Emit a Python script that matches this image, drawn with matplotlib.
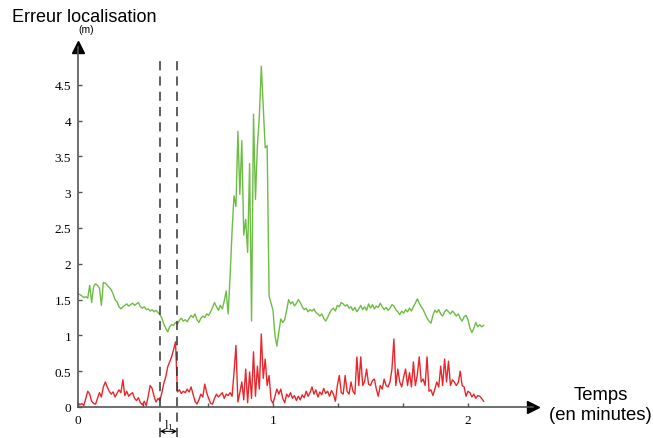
import numpy as np
import matplotlib.pyplot as plt

# --- donnees (erreur de localisation en m, echantillonnee toutes les 0.01 min) ---
dt = 0.01

erreur_verte = [
    1.58, 1.57, 1.55, 1.53, 1.54, 1.52, 1.70, 1.46, 1.68, 1.72,
    1.70, 1.66, 1.42, 1.74, 1.73, 1.70, 1.67, 1.64, 1.58, 1.50,
    1.47, 1.40, 1.37, 1.40, 1.42, 1.44, 1.41, 1.43, 1.45, 1.42,
    1.44, 1.46, 1.40, 1.38, 1.40, 1.36, 1.37, 1.34, 1.36, 1.33,
    1.35, 1.32, 1.29, 1.24, 1.16, 1.10, 1.05, 1.12, 1.15, 1.14,
    1.18, 1.16, 1.21, 1.24, 1.20, 1.22, 1.19, 1.24, 1.28, 1.25,
    1.30, 1.22, 1.18, 1.24, 1.27, 1.25, 1.30, 1.28, 1.33, 1.39,
    1.46, 1.40, 1.35, 1.42, 1.37, 1.48, 1.62, 1.30, 1.83, 2.45,
    2.95, 2.80, 3.85, 2.97, 3.72, 2.40, 2.62, 2.16, 3.40, 1.20,
    4.09, 2.90, 3.65, 4.06, 4.76, 4.20, 3.62, 3.65, 1.55, 1.45,
    1.35, 1.00, 0.85, 1.05, 1.23, 1.18, 1.22, 1.35, 1.50, 1.44,
    1.47, 1.41, 1.45, 1.50, 1.46, 1.40, 1.36, 1.38, 1.33, 1.36,
    1.34, 1.37, 1.32, 1.30, 1.27, 1.30, 1.24, 1.20, 1.25, 1.31,
    1.36, 1.38, 1.34, 1.42, 1.40, 1.46, 1.44, 1.41, 1.43, 1.38,
    1.40, 1.35, 1.39, 1.33, 1.37, 1.42, 1.36, 1.40, 1.35, 1.44,
    1.38, 1.43, 1.37, 1.41, 1.39, 1.45, 1.40, 1.36, 1.39, 1.35,
    1.38, 1.43, 1.41, 1.36, 1.33, 1.29, 1.34, 1.31, 1.36, 1.33,
    1.38, 1.34, 1.40, 1.45, 1.51, 1.45, 1.40, 1.36, 1.30, 1.24,
    1.20, 1.17, 1.28, 1.35, 1.32, 1.36, 1.30, 1.27, 1.33, 1.36,
    1.33, 1.30, 1.34, 1.31, 1.27, 1.30, 1.24, 1.20, 1.26, 1.28,
    1.22, 1.10, 1.04, 1.10, 1.18, 1.12, 1.15, 1.12, 1.14,
]

erreur_rouge = [
    0.06, 0.03, 0.05, 0.02, 0.12, 0.22, 0.18, 0.08, 0.05, 0.04,
    0.12, 0.20, 0.14, 0.28, 0.35, 0.28, 0.22, 0.18, 0.21, 0.14,
    0.19, 0.24, 0.20, 0.38, 0.16, 0.22, 0.15, 0.18, 0.20, 0.12,
    0.09, 0.13, 0.06, 0.03, 0.08, 0.02, 0.15, 0.30, 0.26, 0.15,
    0.07, 0.12, 0.09, 0.20, 0.33, 0.42, 0.56, 0.63, 0.70, 0.80,
    0.91, 0.21, 0.24, 0.19, 0.22, 0.20, 0.25, 0.21, 0.28, 0.18,
    0.08, 0.04, 0.10, 0.18, 0.14, 0.32, 0.20, 0.12, 0.05, 0.04,
    0.12, 0.18, 0.14, 0.17, 0.20, 0.12, 0.18, 0.16, 0.20, 0.15,
    0.48, 0.86, 0.07, 0.20, 0.35, 0.10, 0.53, 0.06, 0.49, 0.12,
    0.77, 0.15, 0.57, 0.25, 1.02, 0.40, 0.67, 0.30, 0.44, 0.10,
    0.05, 0.15, 0.25, 0.18, 0.25, 0.12, 0.06, 0.18, 0.14, 0.20,
    0.12, 0.16, 0.09, 0.15, 0.10, 0.17, 0.13, 0.22, 0.15, 0.20,
    0.28, 0.18, 0.24, 0.14, 0.21, 0.17, 0.26, 0.19, 0.22, 0.15,
    0.23, 0.18, 0.08, 0.30, 0.44, 0.20, 0.18, 0.44, 0.22, 0.18,
    0.35, 0.22, 0.18, 0.70, 0.30, 0.70, 0.30, 0.36, 0.53, 0.32,
    0.30, 0.37, 0.39, 0.25, 0.15, 0.30, 0.25, 0.39, 0.30, 0.28,
    0.35, 0.53, 0.95, 0.30, 0.53, 0.35, 0.28, 0.42, 0.53, 0.30,
    0.48, 0.28, 0.63, 0.30, 0.45, 0.70, 0.35, 0.39, 0.30, 0.70,
    0.22, 0.24, 0.16, 0.25, 0.35, 0.28, 0.57, 0.30, 0.67, 0.35,
    0.64, 0.30, 0.38, 0.35, 0.30, 0.34, 0.50, 0.30, 0.28, 0.15,
    0.22, 0.20, 0.14, 0.18, 0.12, 0.16, 0.15, 0.12, 0.08,
]

temps = np.arange(len(erreur_verte)) * dt

# intervalle l1 (lignes pointillees)
l1_debut = 0.42
l1_fin = 0.508

y_ticks = [0, 0.5, 1, 1.5, 2, 2.5, 3, 3.5, 4, 4.5]
y_labels = ["0", "0.5", "1", "1.5", "2", "2.5", "3", "3.5", "4", "4.5"]
x_ticks = [0, 1/3, 2/3, 1, 4/3, 5/3, 2]
x_labels = ["0", "", "", "1", "", "", "2"]

VERT = "#6dbd45"
ROUGE = "#e8262b"
AXE = "#555555"

plt.rcParams["mathtext.default"] = "regular"

# --- figure ---
W, H = 653, 439
fig = plt.figure(figsize=(W / 100, H / 100), dpi=100)

x0, x1 = 78, 533     # pixels de l'axe x (0 -> fleche)
y0, y1 = 408, 48     # pixels de l'axe y (0 -> fleche)
xmax = (x1 - x0) / 195.0
ymax = (y0 - y1) / 71.6
ax = fig.add_axes([x0 / W, (H - y0) / H, (x1 - x0) / W, (y0 - y1) / H])
ax.set_xlim(0, xmax)
ax.set_ylim(0, ymax)

for s in ["top", "right"]:
    ax.spines[s].set_visible(False)
for s in ["left", "bottom"]:
    ax.spines[s].set_color(AXE)
    ax.spines[s].set_linewidth(1.2)

# fleches au bout des axes
ax.plot([xmax], [0], marker=">", color="black", markersize=9, clip_on=False)
ax.plot([0], [ymax], marker="^", color="black", markersize=9, clip_on=False)

ax.plot(temps, erreur_verte, color=VERT, linewidth=1.0, clip_on=False)
ax.plot(temps, erreur_rouge, color=ROUGE, linewidth=1.0, clip_on=False)

# lignes pointillees + l1
for xv in (l1_debut, l1_fin):
    ax.plot([xv, xv], [-0.42, 4.86], color="#333333", linewidth=1.1,
            dashes=(6, 4), clip_on=False)
ax.annotate("", xy=(l1_debut, -0.34), xytext=(l1_fin, -0.34),
            arrowprops=dict(arrowstyle="<->", color="black", lw=0.8,
                            shrinkA=0, shrinkB=0, mutation_scale=7),
            annotation_clip=False)
ax.text((l1_debut + l1_fin) / 2, -0.24, "l$_1$", ha="center", va="center",
        fontsize=9, family="Liberation Serif")

ax.set_yticks(y_ticks)
ax.set_yticklabels(y_labels, family="Liberation Serif", fontsize=9.5)
ax.set_xticks(x_ticks)
ax.set_xticklabels(x_labels, family="Liberation Serif", fontsize=9.5)
ax.tick_params(direction="in", length=3, width=1, color=AXE)
ax.tick_params(axis="y", pad=5)
ax.tick_params(axis="x", pad=5)

fig.text(12 / W, 1 - 17 / H, "Erreur localisation", family="Liberation Sans",
         fontsize=13, ha="left", va="center")
fig.text(86 / W, 1 - 30 / H, "(m)", family="Liberation Sans",
         fontsize=7.5, ha="center", va="center")
fig.text(601 / W, 1 - 396 / H, "Temps", family="Liberation Sans",
         fontsize=13.3, ha="center", va="center")
fig.text(600 / W, 1 - 415 / H, "(en minutes)", family="Liberation Sans",
         fontsize=13.3, ha="center", va="center")

fig.savefig("out.png", dpi=100)
